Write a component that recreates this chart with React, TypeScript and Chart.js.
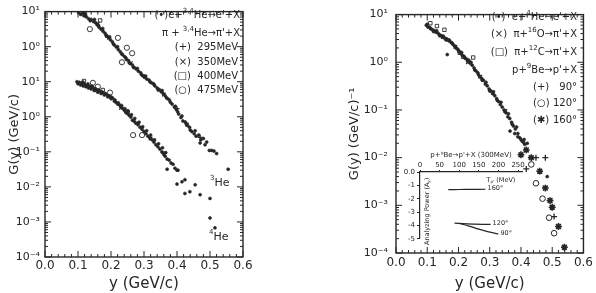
import React, { useEffect, useRef } from "react";
import { Chart, registerables } from "chart.js";
Chart.register(...registerables);

const INK = "#262626";
const FONT = "'DejaVu Sans', 'Liberation Sans', sans-serif";

type Pt = [number, number];

// ---------- axes / ticks ----------
const xTickValues = [0, 0.1, 0.2, 0.3, 0.4, 0.5, 0.6];
const leftYTickValues = [1e-4, 1e-3, 1e-2, 1e-1, 1, 10, 100, 1000];
const leftYTickLabels = ["10⁻⁴", "10⁻³", "10⁻²", "10⁻¹", "10⁰", "10¹", "10⁰", "10¹"];
const rightYTickValues = [1e-4, 1e-3, 1e-2, 1e-1, 1, 10];
const rightYTickLabels = ["10⁻⁴", "10⁻³", "10⁻²", "10⁻¹", "10⁰", "10¹"];
const insetXTicks = [0, 50, 100, 150, 200, 250];
const insetYTicks = [0, -1, -2, -3, -4, -5];

// ---------- left panel: 3He (plotted x100) ----------
const he3Dots: Pt[] = [
  [0.102, 930], [0.108, 830], [0.113, 890], [0.118, 760], [0.125, 710], [0.132, 630], [0.14, 600],
  [0.147, 525], [0.153, 480], [0.158, 420], [0.164, 355], [0.17, 316], [0.176, 275], [0.182, 240],
  [0.188, 200], [0.193, 182], [0.198, 158], [0.204, 138], [0.21, 112], [0.216, 98], [0.222, 83],
  [0.228, 72], [0.235, 59], [0.241, 52], [0.247, 43], [0.253, 40], [0.259, 33], [0.265, 30],
  [0.271, 25], [0.277, 23], [0.283, 20], [0.29, 18], [0.296, 15], [0.302, 13.5], [0.308, 12],
  [0.315, 11.2], [0.321, 9.5], [0.327, 8.9], [0.333, 7.6], [0.34, 6.6], [0.346, 6.0], [0.352, 5.2],
  [0.358, 4.6], [0.364, 4.0], [0.371, 3.3], [0.377, 3.0], [0.385, 2.3], [0.392, 1.9], [0.398, 1.6],
  [0.405, 1.2], [0.412, 0.95], [0.418, 0.76], [0.425, 0.71], [0.432, 0.56], [0.438, 0.5],
  [0.445, 0.38], [0.452, 0.33], [0.458, 0.28], [0.466, 0.3], [0.472, 0.22], [0.48, 0.24],
  [0.49, 0.19], [0.498, 0.11], [0.505, 0.11], [0.512, 0.105], [0.52, 0.089], [0.555, 0.032],
  [0.122, 850], [0.137, 550], [0.15, 600], [0.162, 400], [0.175, 330], [0.185, 210], [0.196, 190],
  [0.207, 120], [0.22, 100], [0.232, 63], [0.245, 48], [0.255, 35], [0.268, 26], [0.28, 24],
  [0.292, 16], [0.305, 14.5], [0.318, 10], [0.33, 8.5], [0.343, 5.8], [0.355, 5.6], [0.368, 3.5],
  [0.38, 2.6], [0.395, 2.0], [0.402, 1.4], [0.415, 1.05], [0.428, 0.63], [0.44, 0.42],
  [0.455, 0.4], [0.47, 0.18], [0.485, 0.16],
];
const he3Circles: Pt[] = [[0.136, 316], [0.221, 178], [0.248, 93], [0.264, 65], [0.233, 36]];
const he3Squares: Pt[] = [[0.121, 830], [0.167, 560]];
const he3Crosses: Pt[] = [[0.16, 450], [0.26, 34], [0.36, 4.3], [0.43, 0.6]];
const he3Pluses: Pt[] = [[0.19, 185], [0.3, 14], [0.4, 1.7], [0.47, 0.26]];

// ---------- left panel: 4He ----------
const he4Dots: Pt[] = [
  [0.097, 10], [0.1, 8.8], [0.104, 9.6], [0.108, 8.0], [0.112, 9.0], [0.116, 7.6], [0.12, 8.4],
  [0.124, 7.2], [0.128, 7.8], [0.132, 6.6], [0.136, 7.4], [0.14, 6.2], [0.145, 6.8], [0.15, 5.6],
  [0.155, 6.0], [0.16, 5.0], [0.165, 5.4], [0.17, 4.6], [0.175, 4.9], [0.18, 4.2], [0.185, 4.4],
  [0.19, 3.7], [0.195, 3.9], [0.2, 3.3], [0.205, 3.4], [0.21, 2.8], [0.215, 2.6], [0.22, 2.3],
  [0.225, 2.2], [0.23, 1.9], [0.235, 1.75], [0.24, 1.55], [0.245, 1.4], [0.25, 1.25], [0.255, 1.1],
  [0.26, 0.98], [0.265, 0.8], [0.27, 0.75], [0.275, 0.66], [0.282, 0.6], [0.288, 0.5], [0.294, 0.44],
  [0.3, 0.38], [0.306, 0.33], [0.312, 0.28], [0.318, 0.25], [0.324, 0.22], [0.33, 0.19],
  [0.336, 0.16], [0.342, 0.14], [0.348, 0.12], [0.354, 0.1], [0.36, 0.085], [0.364, 0.075],
  [0.37, 0.062], [0.376, 0.058], [0.382, 0.048], [0.388, 0.044], [0.394, 0.034], [0.4, 0.03],
  [0.403, 0.03], [0.37, 0.032], [0.4, 0.012], [0.415, 0.014], [0.424, 0.016], [0.424, 0.0065],
  [0.439, 0.0073], [0.455, 0.0115], [0.47, 0.006], [0.5, 0.0047], [0.5, 0.0013], [0.515, 0.00068],
  [0.115, 9.8], [0.13, 8.6], [0.142, 7.5], [0.152, 6.4], [0.162, 5.8], [0.172, 5.2], [0.182, 4.6],
  [0.192, 4.0], [0.202, 3.6], [0.212, 3.0], [0.222, 2.5], [0.232, 2.1], [0.242, 1.7], [0.252, 1.45],
  [0.262, 1.15], [0.272, 0.9], [0.285, 0.7], [0.296, 0.52], [0.308, 0.4], [0.32, 0.3], [0.332, 0.22],
  [0.344, 0.17], [0.356, 0.13], [0.366, 0.095],
];
const he4Circles: Pt[] = [[0.145, 9.3], [0.16, 7.2], [0.197, 4.9], [0.248, 1.38], [0.267, 0.3], [0.294, 0.3]];
const he4Squares: Pt[] = [[0.118, 10.5], [0.175, 5.8]];
const he4Crosses: Pt[] = [[0.15, 5.9], [0.23, 1.8], [0.32, 0.24]];
const he4Pluses: Pt[] = [[0.2, 3.5], [0.28, 0.62], [0.36, 0.09]];

// ---------- right panel ----------
const eHeDots: Pt[] = [
  [0.097, 6.0], [0.102, 5.5], [0.107, 5.4], [0.112, 5.0], [0.117, 4.8], [0.122, 4.6], [0.127, 4.3],
  [0.132, 4.2], [0.137, 3.9], [0.142, 3.7], [0.147, 3.5], [0.152, 3.3], [0.157, 3.2], [0.162, 3.1],
  [0.167, 2.9], [0.172, 2.75], [0.177, 2.6], [0.182, 2.4], [0.187, 2.2], [0.192, 2.0], [0.197, 1.9],
  [0.202, 1.66], [0.207, 1.58], [0.212, 1.41], [0.217, 1.32], [0.222, 1.2], [0.228, 1.15],
  [0.233, 1.1], [0.238, 0.95], [0.244, 0.87], [0.25, 0.76], [0.256, 0.66], [0.262, 0.6], [0.268, 0.5],
  [0.274, 0.46], [0.28, 0.42], [0.286, 0.35], [0.292, 0.32], [0.298, 0.275], [0.304, 0.25],
  [0.31, 0.22], [0.316, 0.2], [0.322, 0.174], [0.328, 0.15], [0.334, 0.13], [0.34, 0.115],
  [0.346, 0.1], [0.352, 0.087], [0.358, 0.072], [0.364, 0.066], [0.37, 0.055], [0.376, 0.046],
  [0.382, 0.04], [0.39, 0.032], [0.396, 0.026], [0.404, 0.022], [0.412, 0.019],
  [0.1, 6.3], [0.11, 5.2], [0.12, 4.4], [0.13, 4.6], [0.14, 3.6], [0.15, 3.55], [0.16, 2.95],
  [0.17, 2.95], [0.18, 2.5], [0.19, 2.15], [0.2, 1.78], [0.21, 1.6], [0.22, 1.26], [0.23, 1.05],
  [0.24, 1.0], [0.252, 0.69], [0.264, 0.55], [0.276, 0.42], [0.288, 0.38], [0.3, 0.25], [0.312, 0.24],
  [0.324, 0.16], [0.336, 0.145], [0.348, 0.095], [0.36, 0.083], [0.372, 0.05], [0.386, 0.044],
  [0.4, 0.024], [0.164, 1.45], [0.365, 0.036], [0.38, 0.032], [0.39, 0.0275], [0.41, 0.024],
  [0.42, 0.02], [0.408, 0.021], [0.484, 0.004],
];
const o16Crosses: Pt[] = [[0.15, 3.4], [0.19, 2.1], [0.23, 1.0], [0.27, 0.5], [0.31, 0.23], [0.35, 0.095]];
const c12Squares: Pt[] = [[0.11, 6.6], [0.131, 5.75], [0.155, 4.8], [0.204, 1.58], [0.247, 1.26], [0.215, 1.3]];
const be90Pluses: Pt[] = [[0.417, 0.0058], [0.448, 0.01], [0.478, 0.01], [0.506, 0.00058]];
const be120Circles: Pt[] = [[0.433, 0.0072], [0.448, 0.0029], [0.469, 0.00138], [0.49, 0.00055], [0.506, 0.00026]];
const be160Stars: Pt[] = [
  [0.4, 0.0115], [0.417, 0.0145], [0.433, 0.01], [0.46, 0.0052], [0.478, 0.0023], [0.493, 0.00126],
  [0.5, 0.00091], [0.52, 0.00036], [0.539, 0.000132],
];

// ---------- inset: analyzing power ----------
const inset160: Pt[] = [[72, -1.32], [100, -1.31], [130, -1.3], [167, -1.29]];
const inset120: Pt[] = [[88, -3.82], [110, -3.86], [140, -3.9], [180, -3.92]];
const inset90: Pt[] = [[100, -3.85], [125, -4.05], [150, -4.28], [175, -4.48], [200, -4.64]];
const insetLabels = ["160°", "120°", "90°"];

// ---------- texts ----------
const leftLegend = ["(•)e+^{3,4}He→e'+X", "π + ^{3,4}He→π'+X", "(+)  295MeV", "(×)  350MeV", "(□)  400MeV", "(○)  475MeV"];
const rightLegendTop = ["(•)  e+^{4}He→e'+X", "(×)  π+^{16}O→π'+X", "(□)  π+^{12}C→π'+X", "p+^{9}Be→p'+X"];
const rightLegendMarks = ["(+)", "(○)", "(✱)"];
const rightLegendAngles = ["90°", "120°", "160°"];

// ---------- helpers ----------
type Seg = { t: string; k: number };
function parseRich(s: string): Seg[] {
  const out: Seg[] = [];
  const re = /\^\{([^}]*)\}|_\{([^}]*)\}|([^^_]+)/g;
  let m: RegExpExecArray | null;
  while ((m = re.exec(s))) {
    if (m[1] !== undefined) out.push({ t: m[1], k: 1 });
    else if (m[2] !== undefined) out.push({ t: m[2], k: -1 });
    else out.push({ t: m[3], k: 0 });
  }
  return out;
}
function drawRich(ctx: CanvasRenderingContext2D, s: string, x: number, y: number, size: number, align: "left" | "right" | "center") {
  const segs = parseRich(s);
  const fb = `${size}px ${FONT}`;
  const fs = `${Math.round(size * 0.68)}px ${FONT}`;
  let w = 0;
  for (const g of segs) {
    ctx.font = g.k ? fs : fb;
    w += ctx.measureText(g.t).width;
  }
  let cx = align === "right" ? x - w : align === "center" ? x - w / 2 : x;
  ctx.textAlign = "left";
  ctx.textBaseline = "middle";
  for (const g of segs) {
    ctx.font = g.k ? fs : fb;
    const dy = g.k === 1 ? -size * 0.42 : g.k === -1 ? size * 0.3 : 0;
    ctx.fillText(g.t, cx, y + dy);
    cx += ctx.measureText(g.t).width;
  }
}

const toXY = (pts: Pt[]) => pts.map(([x, y]) => ({ x, y }));
function ds(pts: Pt[], style: string, radius: number, filled: boolean, bw = 1) {
  return {
    data: toXY(pts),
    pointStyle: style,
    pointRadius: radius,
    pointHoverRadius: radius,
    backgroundColor: filled ? INK : "rgba(0,0,0,0)",
    borderColor: INK,
    borderWidth: bw,
    showLine: false,
  };
}

const framePlugin = {
  id: "frame",
  afterDraw(chart: any) {
    const { ctx, chartArea } = chart;
    const { left, right, top, bottom } = chartArea;
    const x = chart.scales.x;
    const y = chart.scales.y;
    ctx.save();
    ctx.strokeStyle = INK;
    ctx.lineWidth = 1.4;
    ctx.strokeRect(left, top, right - left, bottom - top);
    ctx.lineWidth = 1;
    ctx.beginPath();
    for (let i = 0; i <= 30; i++) {
      const px = x.getPixelForValue(i * 0.02);
      const len = i % 5 === 0 ? 6 : 3;
      ctx.moveTo(px, bottom);
      ctx.lineTo(px, bottom - len);
      ctx.moveTo(px, top);
      ctx.lineTo(px, top + len);
    }
    for (let d = -4; d <= 3; d++) {
      for (let m = 1; m <= 9; m++) {
        const v = m * Math.pow(10, d);
        if (v < y.min * 0.999 || v > y.max * 1.001) continue;
        const py = y.getPixelForValue(v);
        const len = m === 1 ? 6 : 3;
        ctx.moveTo(left, py);
        ctx.lineTo(left + len, py);
        ctx.moveTo(right, py);
        ctx.lineTo(right - len, py);
      }
    }
    ctx.stroke();
    ctx.restore();
  },
};

function makeTextPlugin(draw: (ctx: CanvasRenderingContext2D, chart: any) => void) {
  return {
    id: "texts",
    afterDraw(chart: any) {
      const ctx = chart.ctx as CanvasRenderingContext2D;
      ctx.save();
      ctx.fillStyle = INK;
      draw(ctx, chart);
      ctx.restore();
    },
  };
}

function logTicks(values: number[], labels: string[]) {
  return {
    afterBuildTicks: (s: any) => {
      s.ticks = values.map((v) => ({ value: v }));
    },
    callback: (v: number) => {
      const i = values.findIndex((t) => Math.abs(Math.log10(t) - Math.log10(v)) < 1e-6);
      return i >= 0 ? labels[i] : "";
    },
  };
}

function mainOptions(pad: any, yWidth: number, xHeight: number, yMin: number, yMax: number, yVals: number[], yLabs: string[], yTitle: string, yTitlePad: number, yTickPad: number, xTickPad: number, xTitlePad: number) {
  const lt = logTicks(yVals, yLabs);
  return {
    responsive: false,
    animation: false,
    devicePixelRatio: 1,
    layout: { padding: pad },
    plugins: { legend: { display: false }, tooltip: { enabled: false } },
    scales: {
      x: {
        type: "linear",
        min: 0,
        max: 0.6,
        afterBuildTicks: (s: any) => {
          s.ticks = xTickValues.map((v) => ({ value: v }));
        },
        afterFit: (s: any) => {
          s.height = xHeight;
        },
        grid: { display: false, drawTicks: false },
        border: { display: false },
        ticks: {
          color: INK,
          font: { family: FONT, size: 12 },
          padding: xTickPad,
          maxRotation: 0,
          autoSkip: false,
          callback: (v: number) => v.toFixed(1),
        },
        title: {
          display: true,
          text: "y (GeV/c)",
          color: INK,
          font: { family: FONT, size: 15 },
          padding: { top: xTitlePad, bottom: 0 },
        },
      },
      y: {
        type: "logarithmic",
        min: yMin,
        max: yMax,
        afterBuildTicks: lt.afterBuildTicks,
        afterFit: (s: any) => {
          s.width = yWidth;
        },
        grid: { display: false, drawTicks: false },
        border: { display: false },
        ticks: {
          color: INK,
          font: { family: FONT, size: 11 },
          padding: yTickPad,
          autoSkip: false,
          callback: lt.callback,
        },
        title: {
          display: true,
          text: yTitle,
          color: INK,
          font: { family: FONT, size: 13 },
          padding: { top: yTitlePad, bottom: 0 },
        },
      },
    },
  };
}

function useChart(ref: React.RefObject<HTMLCanvasElement | null>, make: () => any) {
  useEffect(() => {
    if (!ref.current) return;
    const chart = new Chart(ref.current, make());
    return () => chart.destroy();
  }, []);
}

function LeftPanel() {
  const ref = useRef<HTMLCanvasElement>(null);
  useChart(ref, () => ({
    type: "scatter",
    data: {
      datasets: [
        ds(he3Dots, "circle", 1.5, true, 0.6),
        ds(he3Circles, "circle", 2.6, false, 0.9),
        ds(he3Squares, "rect", 2.4, false, 0.9),
        ds(he3Crosses, "crossRot", 2.5, false, 1.2),
        ds(he3Pluses, "cross", 2.5, false, 1.2),
        ds(he4Dots, "circle", 1.5, true, 0.6),
        ds(he4Circles, "circle", 2.6, false, 0.9),
        ds(he4Squares, "rect", 2.4, false, 0.9),
        ds(he4Crosses, "crossRot", 2.5, false, 1.2),
        ds(he4Pluses, "cross", 2.5, false, 1.2),
      ],
    },
    options: mainOptions({ left: 0, top: 7, right: 55, bottom: 0 }, 45, 36, 1e-4, 1e3, leftYTickValues, leftYTickLabels, "G(y) (GeV/c)", 7, 5, 2, 2),
    plugins: [
      framePlugin,
      makeTextPlugin((ctx) => {
        const rows = [15, 33, 47, 62, 76, 90];
        leftLegend.forEach((s, i) => drawRich(ctx, s, i < 2 ? 240 : 238, rows[i], 10, "right"));
        drawRich(ctx, "^{3}He", 210, 183, 11, "left");
        drawRich(ctx, "^{4}He", 209, 237, 11, "left");
      }),
    ],
  }));
  return <canvas ref={ref} width={298} height={293} style={{ position: "absolute", left: 0, top: 0 }} />;
}

function RightPanel() {
  const ref = useRef<HTMLCanvasElement>(null);
  useChart(ref, () => ({
    type: "scatter",
    data: {
      datasets: [
        ds(eHeDots, "circle", 1.5, true, 0.6),
        ds(o16Crosses, "crossRot", 2.5, false, 1.2),
        ds(c12Squares, "rect", 2.4, false, 0.9),
        ds(be90Pluses, "cross", 3, false, 1.3),
        ds(be120Circles, "circle", 2.8, false, 1),
        ds(be160Stars, "star", 3.4, true, 1.6),
      ],
    },
    options: mainOptions({ left: 45, top: 5, right: 3, bottom: 0 }, 53, 40, 1e-4, 10, rightYTickValues, rightYTickLabels, "G(y) (GeV/c)⁻¹", 4, 8, 3, 1),
    plugins: [
      framePlugin,
      makeTextPlugin((ctx) => {
        const rows = [17, 34, 52, 70];
        rightLegendTop.forEach((s, i) => drawRich(ctx, s, 279, rows[i], 10, "right"));
        const rows2 = [87, 103, 120];
        rightLegendMarks.forEach((s, i) => drawRich(ctx, s, 235, rows2[i], 10, "left"));
        rightLegendAngles.forEach((s, i) => drawRich(ctx, s, 279, rows2[i], 10, "right"));
      }),
    ],
  }));
  return <canvas ref={ref} width={298} height={293} style={{ position: "absolute", left: 298, top: 0 }} />;
}

function Inset() {
  const ref = useRef<HTMLCanvasElement>(null);
  useChart(ref, () => ({
    type: "scatter",
    data: {
      datasets: [inset160, inset120, inset90].map((pts) => ({
        data: toXY(pts),
        showLine: true,
        borderColor: INK,
        borderWidth: 1.2,
        pointRadius: 0,
        tension: 0.3,
        fill: false,
      })),
    },
    options: {
      responsive: false,
      animation: false,
      devicePixelRatio: 1,
      layout: { padding: { left: 0, top: 0, right: 5, bottom: 4 } },
      plugins: { legend: { display: false }, tooltip: { enabled: false } },
      scales: {
        x: {
          type: "linear",
          position: "top",
          min: 0,
          max: 260,
          afterBuildTicks: (s: any) => {
            s.ticks = insetXTicks.map((v) => ({ value: v }));
          },
          afterFit: (s: any) => {
            s.height = 27;
          },
          grid: { display: true, drawOnChartArea: false, drawTicks: true, tickLength: 2, color: INK },
          border: { display: true, color: INK, width: 1.2 },
          ticks: { color: INK, font: { family: FONT, size: 7 }, padding: 1, maxRotation: 0, autoSkip: false },
          title: {
            display: true,
            text: "p+⁹Be→p'+X (300MeV)",
            color: INK,
            font: { family: FONT, size: 7 },
            padding: { top: 6, bottom: 0 },
          },
        },
        y: {
          type: "linear",
          min: -5,
          max: 0,
          afterBuildTicks: (s: any) => {
            s.ticks = insetYTicks.map((v) => ({ value: v }));
          },
          afterFit: (s: any) => {
            s.width = 25;
          },
          grid: { display: true, drawOnChartArea: false, drawTicks: true, tickLength: 3, color: INK },
          border: { display: true, color: INK, width: 1.2 },
          ticks: {
            color: INK,
            font: { family: FONT, size: 7 },
            padding: 2,
            autoSkip: false,
            callback: (v: number) => (v === 0 ? "0.0" : String(v)),
          },
        },
      },
    },
    plugins: [
      makeTextPlugin((ctx, chart) => {
        const { left, top, bottom } = chart.chartArea;
        ctx.save();
        ctx.translate(left + 7, (top + bottom) / 2 + 6);
        ctx.rotate(-Math.PI / 2);
        ctx.fillStyle = INK;
        drawRich(ctx, "Analyzing Power (A_{y})", 0, 0, 6.5, "center");
        ctx.restore();
        drawRich(ctx, "T_{p'} (MeV)", 106, top + 8, 6.5, "center");
        chart.data.datasets.forEach((d: any, i: number) => {
          const last = d.data[d.data.length - 1];
          const px = chart.scales.x.getPixelForValue(last.x);
          const py = chart.scales.y.getPixelForValue(last.y);
          drawRich(ctx, insetLabels[i], px + 2, py - 1, 6.5, "left");
        });
      }),
    ],
  }));
  return <canvas ref={ref} width={132} height={100} style={{ position: "absolute", left: 395, top: 145 }} />;
}

export default function App() {
  return (
    <div style={{ position: "fixed", left: 0, top: 0, width: 596, height: 293, background: "#fff", overflow: "hidden" }}>
      <LeftPanel />
      <RightPanel />
      <Inset />
    </div>
  );
}
